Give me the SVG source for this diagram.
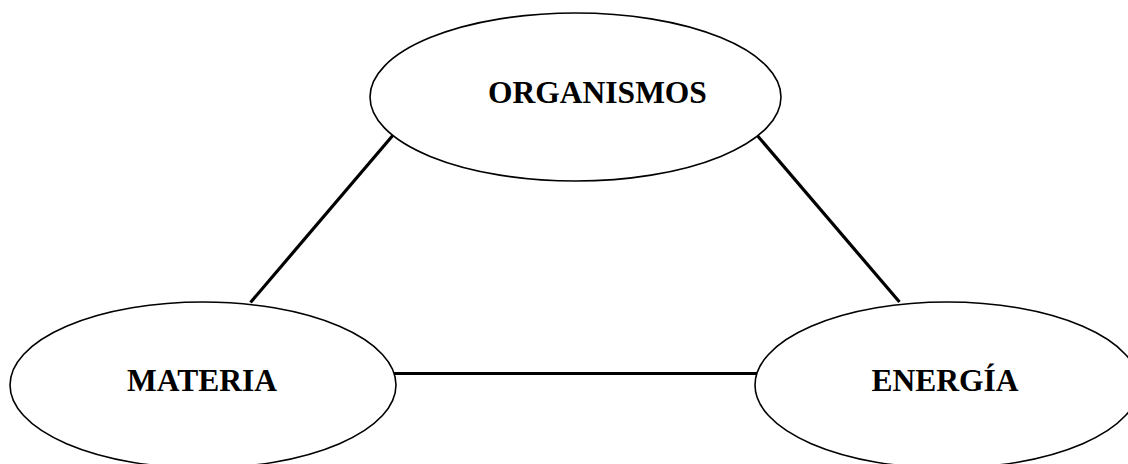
<svg xmlns="http://www.w3.org/2000/svg" width="1128" height="464" viewBox="0 0 1128 464">
  <style>
    .node ellipse { fill: #ffffff; stroke: #000000; stroke-width: 1.6; }
    .node text { font-family: "Liberation Serif", "Times New Roman", serif; font-weight: bold; font-size: 31.5px; fill: #000000; text-anchor: middle; }
    .conn line { stroke: #000000; stroke-width: 3.2; stroke-linecap: butt; }
  </style>
  <rect width="1128" height="464" fill="#ffffff"/>
  <g id="connectors" class="conn">
    <line x1="394" y1="134" x2="250.5" y2="302.5"/>
    <line x1="756" y1="134" x2="899.5" y2="302"/>
    <line x1="394" y1="373.5" x2="757" y2="373.5"/>
  </g>
  <g id="organismos" class="node">
    <ellipse cx="575.5" cy="97" rx="205.5" ry="84"/>
    <text x="597.5" y="103.3">ORGANISMOS</text>
  </g>
  <g id="materia" class="node">
    <ellipse cx="203" cy="385" rx="193" ry="83"/>
    <text x="202" y="391">MATERIA</text>
  </g>
  <g id="energia" class="node">
    <ellipse cx="947" cy="385" rx="192" ry="83"/>
    <text x="945" y="391">ENERGÍA</text>
  </g>
</svg>
